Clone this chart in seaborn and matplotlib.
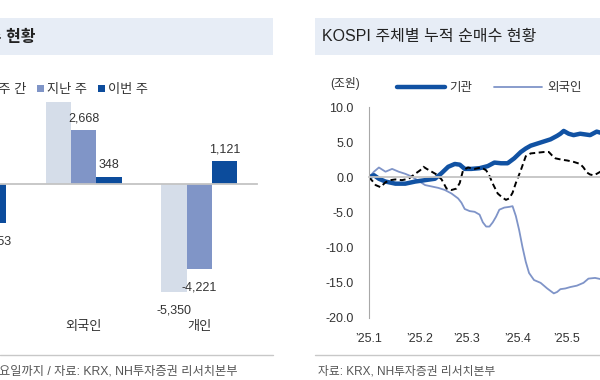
import pandas as pd
import matplotlib
matplotlib.use("Agg")
import matplotlib.pyplot as plt
import matplotlib.dates as mdates
from matplotlib.patches import Rectangle
from matplotlib.lines import Line2D
from matplotlib.ticker import FuncFormatter
import seaborn as sns

# left panel: weekly net buying by investor (억원)
investors = ["기관", "외국인", "개인"]
periods = ["4주 간", "지난 주", "이번 주"]
avg_4w = [1270, 4080, -5350]
last_week = [1553, 2668, -4221]
this_week = [-1953, 348, 1121]
# the 외국인 4주 간 label sits under the legend in the source, so it is not shown
avg_4w_shown = [True, False, True]
bar_colors = ["#d5dde9", "#8095c7", "#0c4c9c"]

# right panel: cumulative net buying since '25.1 (조원), day offsets from Jan 1
inst_day = [0, 3, 6, 10, 16, 22, 28, 34, 40, 44, 48, 52, 55, 58, 62, 67, 72, 76, 80, 84,
            88, 92, 95, 98, 102, 106, 110, 114, 116, 118, 121, 124, 128, 131, 134, 138, 141, 144]
inst = [0.0, 0.3, -0.2, -0.6, -0.9, -0.9, -0.6, -0.4, -0.2, 0.6, 1.5, 1.9, 1.8, 1.2, 1.2, 1.3, 1.6, 2.1, 2.0, 2.0,
        2.7, 3.6, 4.1, 4.5, 4.8, 5.1, 5.4, 5.9, 6.2, 6.6, 6.2, 6.0, 6.2, 6.1, 6.0, 6.5, 6.3, 6.1]

foreign_day = [0, 3, 6, 10, 14, 18, 22, 26, 30, 34, 38, 42, 46, 50, 54, 56, 58, 61, 64, 67,
               69, 71, 73, 75, 77, 79, 82, 85, 87, 89, 91, 93, 95, 97, 100, 104, 108, 112, 114, 116,
               119, 122, 126, 130, 133, 137, 141, 144]
foreign = [0.0, 0.8, 1.4, 0.8, 1.2, 0.8, 0.5, 0.1, -0.5, -1.1, -1.3, -1.5, -1.8, -2.3, -3.0, -3.6, -4.5, -4.8, -4.9, -5.3,
           -6.4, -7.0, -7.0, -6.4, -5.6, -4.6, -4.3, -4.2, -4.1, -5.5, -7.5, -9.9, -12.0, -13.6, -14.6, -15.0, -15.8, -16.5, -16.3, -15.9,
           -15.8, -15.6, -15.4, -15.0, -14.4, -14.3, -14.5, -14.6]

retail_day = [0, 2, 4, 7, 10, 13, 16, 20, 24, 28, 31, 33, 35, 38, 41, 44, 47, 50, 53, 55,
              57, 60, 64, 68, 71, 73, 75, 78, 81, 83, 85, 87, 89, 92, 95, 98, 102, 106, 109, 111,
              113, 117, 120, 124, 128, 130, 132, 134, 136, 138, 141, 144]
retail = [0.0, -0.5, -1.1, -1.4, -0.7, -0.4, -0.3, -0.4, -0.2, 0.5, 1.0, 1.5, 1.2, 0.8, 0.4, -0.3, -1.6, -1.8, -1.6, -0.8,
          1.0, 1.4, 1.2, 1.4, 1.0, 0.2, -0.9, -2.3, -2.9, -3.2, -3.0, -2.2, -0.8, 1.0, 3.0, 3.4, 3.5, 3.6, 3.6, 3.1,
          2.7, 2.5, 2.4, 2.2, 1.9, 1.4, 0.7, 0.4, 0.3, 0.5, 0.9, 1.0]

start = pd.Timestamp("2025-01-01")


def to_dates(days):
    return start + pd.to_timedelta(days, unit="D")


sns.set_theme(style="white")
plt.rcParams["font.family"] = ["Liberation Sans", "Noto Sans CJK KR"]
plt.rcParams["text.color"] = "#333333"

fig = plt.figure(figsize=(6, 3.8), dpi=100)
W, H = 600, 380
band = "#e7edf6"

# title bands, footer rules and texts
fig.add_artist(Rectangle((0, 1 - 55 / H), 273 / W, 37 / H, transform=fig.transFigure,
                         facecolor=band, edgecolor="none", zorder=0))
fig.add_artist(Rectangle((315 / W, 1 - 55 / H), 1 - 315 / W, 37 / H, transform=fig.transFigure,
                         facecolor=band, edgecolor="none", zorder=0))
fig.text(36 / W, 1 - 37 / H, "KOSPI 주체별 순매수 현황", ha="right", va="center",
         fontsize=11.5, weight="bold", color="#222222")
fig.text(322 / W, 1 - 37 / H, "KOSPI 주체별 누적 순매수 현황", ha="left", va="center",
         fontsize=11.5, weight="medium", color="#222222")
for x0, x1 in [(0, 273), (315, 600)]:
    fig.add_artist(Line2D([x0 / W, x1 / W], [1 - 355 / H] * 2, color="#c8c8c8", lw=1,
                          transform=fig.transFigure))
fig.text(238 / W, 1 - 372 / H, "주: 이번 주는 금요일까지 / 자료: KRX, NH투자증권 리서치본부",
         ha="right", va="center", fontsize=8.8, color="#555555")
fig.text(318 / W, 1 - 372 / H, "자료: KRX, NH투자증권 리서치본부",
         ha="left", va="center", fontsize=8.5, color="#555555")

# ---- left: grouped bars
ax1 = fig.add_axes([-89.5 / W, 75 / H, 346.5 / W, 222 / H])
bars = pd.DataFrame({
    "investor": investors * 3,
    "period": [p for p in periods for _ in investors],
    "value": avg_4w + last_week + this_week,
})
sns.barplot(data=bars, x="investor", y="value", hue="period", order=investors,
            hue_order=periods, palette=bar_colors, saturation=1, width=0.66,
            linewidth=0, ax=ax1)
shown = [avg_4w_shown, [True] * 3, [True] * 3]
for c, show in zip(ax1.containers, shown):
    vals = c.datavalues
    ax1.bar_label(c, labels=[f"{v:,.0f}" if (v >= 0 and s) else "" for v, s in zip(vals, show)],
                  padding=4, fontsize=9, color="#333333")
    ax1.bar_label(c, labels=[f"{v:,.0f}" if (v < 0 and s) else "" for v, s in zip(vals, show)],
                  padding=9, fontsize=9, color="#333333")
ax1.set_ylim(-6000, 5000)
ax1.set_xlim(-0.5, 2.5)
ax1.set_xlabel("")
ax1.set_ylabel("")
ax1.set_yticks([])
for s in ["left", "right", "top"]:
    ax1.spines[s].set_visible(False)
ax1.spines["bottom"].set_position(("data", 0))
ax1.spines["bottom"].set_color("#c4c4c4")
ax1.spines["bottom"].set_linewidth(1.3)
ax1.set_xticks([0.5, 1.5, 2.5], minor=True)
ax1.tick_params(axis="x", which="major", length=0, pad=99, labelsize=9.5, labelcolor="#333333")
ax1.tick_params(axis="x", which="minor", length=3, direction="in", color="#999999", width=0.8)
sns.move_legend(ax1, "center right", bbox_to_anchor=(160 / W, 1 - 90 / H),
                bbox_transform=fig.transFigure, ncol=3, title=None, frameon=True,
                facecolor="white", edgecolor="none", framealpha=1, fancybox=False,
                handlelength=0.5, handleheight=0.5, handletextpad=0.25,
                columnspacing=0.85, borderpad=0.4, fontsize=9.5)

# ---- right: cumulative lines
ax2 = fig.add_axes([369 / W, 62 / H, 297 / W, 211 / H])
sns.lineplot(x=to_dates(foreign_day), y=foreign, ax=ax2, color="#7f94c8", linewidth=1.3, label="외국인")
sns.lineplot(x=to_dates(inst_day), y=inst, ax=ax2, color="#1152a3", linewidth=3.2, label="기관")
sns.lineplot(x=to_dates(retail_day), y=retail, ax=ax2, color="black", linewidth=1.4,
             linestyle=(0, (3, 1.8)), label="개인")
ax2.set_xlim(start, pd.Timestamp("2025-06-30"))
ax2.set_ylim(-20, 10)
ax2.set_yticks([-20, -15, -10, -5, 0, 5, 10])
ax2.yaxis.set_major_formatter(FuncFormatter(lambda v, p: f"{v:.1f}"))
ax2.xaxis.set_major_locator(mdates.MonthLocator())
ax2.xaxis.set_major_formatter(FuncFormatter(
    lambda v, p: f"’{mdates.num2date(v):%y}.{mdates.num2date(v).month}"))
for s in ["right", "top"]:
    ax2.spines[s].set_visible(False)
ax2.spines["left"].set_color("#a8a8a8")
ax2.spines["left"].set_linewidth(0.8)
ax2.spines["bottom"].set_position(("data", 0))
ax2.spines["bottom"].set_color("#c4c4c4")
ax2.spines["bottom"].set_linewidth(1.3)
ax2.tick_params(axis="x", length=3, direction="in", color="#999999", width=0.8,
                pad=112, labelsize=9, labelcolor="#333333")
ax2.tick_params(axis="y", length=3, direction="in", color="#999999", width=0.8,
                pad=11, labelsize=9, labelcolor="#333333")
ax2.set_xlabel("")
ax2.set_ylabel("")
fig.text(330 / W, 1 - 83 / H, "(조원)", ha="left", va="center", fontsize=8.5, color="#333333")

handles, labels = ax2.get_legend_handles_labels()
order = [labels.index(n) for n in ["기관", "외국인", "개인"]]
ax2.legend([handles[i] for i in order], [labels[i] for i in order],
           loc="center left", bbox_to_anchor=(397 / W, 1 - 88 / H), bbox_transform=fig.transFigure,
           ncol=3, frameon=False, borderpad=0, borderaxespad=0, handlelength=3.8,
           handletextpad=0.4, columnspacing=1.75, fontsize=9)

fig.savefig("out.png", dpi=100)
